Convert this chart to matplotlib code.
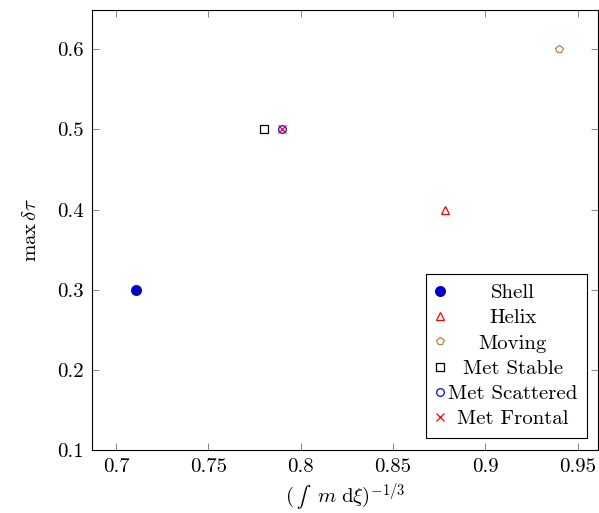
import matplotlib
matplotlib.use('Agg')
import matplotlib.pyplot as plt

plt.rcParams['font.family'] = 'serif'
plt.rcParams['font.serif'] = ['cmr10']
plt.rcParams['mathtext.fontset'] = 'cm'
plt.rcParams['axes.formatter.use_mathtext'] = True
plt.rcParams['font.size'] = 15

labels = ['Shell', 'Helix', 'Moving', 'Met Stable', 'Met Scattered', 'Met Frontal']
x_vals = [0.711, 0.878, 0.940, 0.780, 0.790, 0.790]
y_vals = [0.3, 0.4, 0.6, 0.5, 0.5, 0.5]
markers = ['o', '^', 'p', 's', 'o', 'x']
colors = ['#0000cc', 'red', '#bf8040', 'black', 'blue', 'red']
filled = [True, False, False, False, False, False]

xticks = [0.7, 0.75, 0.8, 0.85, 0.9, 0.95]
yticks = [0.1, 0.2, 0.3, 0.4, 0.5, 0.6]

fig = plt.figure(figsize=(5.99, 5.13), dpi=100)
ax = fig.add_axes([0.1536, 0.1228, 0.8444, 0.8577])

for lab, x, y, m, c, f in zip(labels, x_vals, y_vals, markers, colors, filled):
    ms = 7 if f else 5.5
    ax.plot([x], [y], linestyle='none', marker=m, markersize=ms,
            markeredgecolor=c, markerfacecolor=c if f else 'none',
            markeredgewidth=0.9, label=lab)

ax.set_xlim(0.687, 0.9608)
ax.set_ylim(0.1, 0.649)
ax.set_xticks(xticks)
ax.set_xticklabels([f'{v:g}' for v in xticks])
ax.set_yticks(yticks)
ax.set_yticklabels([f'{v:g}' for v in yticks])
ax.tick_params(direction='in', length=5, width=0.5, top=True, right=True,
               color='#555555', pad=6)
for sp in ax.spines.values():
    sp.set_linewidth(0.8)

ax.set_xlabel(r'$(\,∫\ \ m\;\mathrm{d}\xi)^{-1/3}$', labelpad=4)
ax.set_ylabel(r'$\max\,\delta\tau$', labelpad=12)

leg = ax.legend(loc='lower right', bbox_to_anchor=(0.978, 0.028), fancybox=False,
                edgecolor='black', framealpha=1, handlelength=0.4,
                handletextpad=0.2, labelspacing=0.32, borderpad=0.45,
                borderaxespad=0)
leg.get_frame().set_linewidth(0.8)

# centre the legend labels within the column
fig.canvas.draw()
widths = [t.get_window_extent().width for t in leg.get_texts()]
wmax = max(widths)
for t, w in zip(leg.get_texts(), widths):
    t.set_x((wmax - w) / 2)

fig.savefig('out.png', dpi=100)
